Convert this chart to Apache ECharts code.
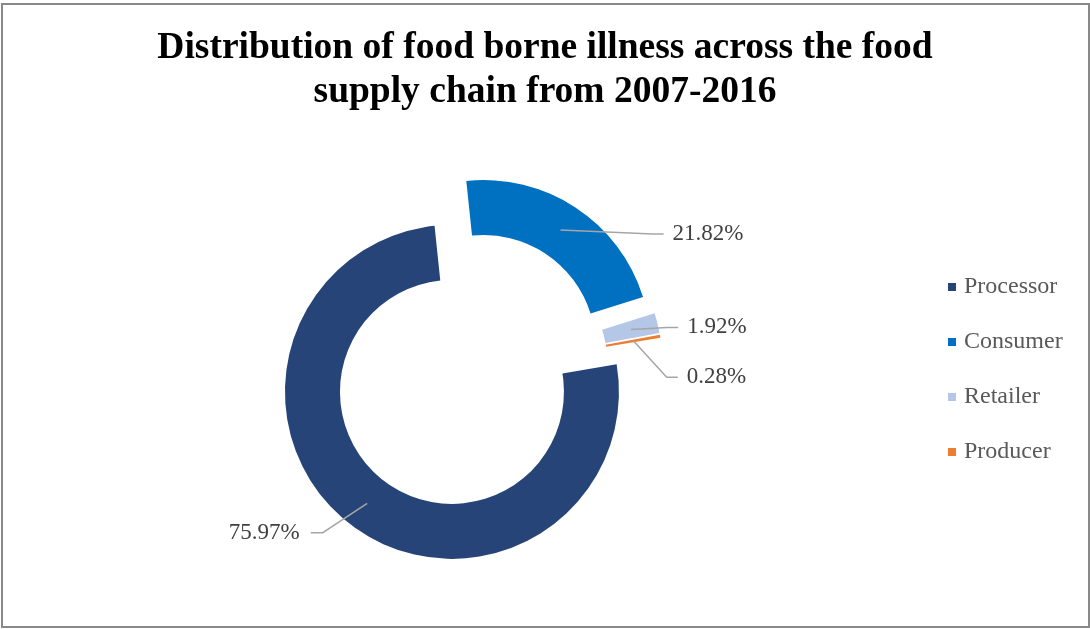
<!DOCTYPE html>
<html>
<head>
<meta charset="utf-8">
<script src="https://cdn.jsdelivr.net/npm/echarts@6/dist/echarts.min.js"></script>
<style>
  html, body { margin: 0; padding: 0; background: #fff; }
  #wrap { position: relative; width: 1090px; height: 629px; }
  #chart { position: absolute; left: 0; top: 0; width: 1090px; height: 629px; }
  #frame { position: absolute; left: 1px; top: 3px; width: 1085px; height: 621px;
           border: 2px solid #898989; pointer-events: none; }
</style>
</head>
<body>
<div id="wrap">
  <div id="chart"></div>
  <div id="frame"></div>
</div>
<script>
// Share of food borne illness by supply chain stage, 2007-2016 (%)
const categories = ['Processor', 'Consumer', 'Retailer', 'Producer'];
const shares = [75.97, 21.82, 1.92, 0.28];
const colors = ['#264478', '#0070C0', '#B4C7E7', '#ED7D31'];

const serif = "'Liberation Serif', 'Times New Roman', serif";

// Ring geometry
const START_ANGLE = 9.5;      // degrees, ECharts convention (0 = 3 o'clock)
const EXPLODE = 27.5;         // every slice is pulled out from the centre
const LEADER_INSET = 27;      // leader lines begin inside the ring
const RING_CENTER = [468.6, 370];
const RING_RADIUS = [112, 167];
// Per-slice label nudges [dx, dy] away from the default outside position
const labelNudge = [[-22, -4], [69, 39], [0, 8], [-5, 31]];

const total = shares.reduce((a, b) => a + b, 0);

function midDirection(i) {
  const before = shares.slice(0, i).reduce((a, b) => a + b, 0);
  const deg = START_ANGLE - 360 * (before + shares[i] / 2) / total;
  const rad = deg * Math.PI / 180;
  return [Math.cos(rad), -Math.sin(rad)];
}

// Shared ring settings for the filled ring and the label overlay
function ringBase() {
  return {
    type: 'pie',
    center: RING_CENTER,
    radius: RING_RADIUS,
    startAngle: START_ANGLE,
    clockwise: true,
    selectedMode: 'multiple',
    selectedOffset: EXPLODE,
    emphasis: { disabled: true },
    select: { itemStyle: { borderWidth: 0 } }
  };
}

const chart = echarts.init(document.getElementById('chart'), null, { renderer: 'canvas' });

chart.setOption({
  animation: false,
  backgroundColor: '#ffffff',
  title: {
    text: 'Distribution of food borne illness across the food\nsupply chain from 2007-2016',
    left: 'center',
    top: 21,
    textStyle: {
      fontFamily: serif,
      fontSize: 37.5,
      fontWeight: 'bold',
      color: '#000000',
      lineHeight: 44
    }
  },
  legend: {
    orient: 'vertical',
    left: 943,
    top: 270,
    icon: 'rect',
    itemWidth: 8,
    itemHeight: 8,
    itemGap: 31,
    selectedMode: false,
    data: categories,
    textStyle: {
      fontFamily: serif,
      fontSize: 24,
      lineHeight: 24,
      color: '#595959',
      padding: [0, 0, 0, 3]
    }
  },
  series: [
    // Filled, exploded ring
    Object.assign(ringBase(), {
      name: 'ring',
      z: 2,
      label: { show: false },
      labelLine: { show: false },
      data: categories.map((name, i) => ({
        name: name,
        value: shares[i],
        selected: true,
        itemStyle: { color: colors[i] }
      }))
    }),
    // Same ring, unfilled, carrying the percentage labels so the
    // leader lines are painted on top of the slices
    Object.assign(ringBase(), {
      name: 'labels',
      z: 3,
      silent: true,
      avoidLabelOverlap: true,
      itemStyle: { color: 'rgba(0,0,0,0)', borderWidth: 0 },
      label: {
        show: true,
        formatter: '{c}%',
        fontFamily: serif,
        fontSize: 23,
        color: '#404040'
      },
      labelLine: {
        show: true,
        length: 15,
        length2: 15,
        lineStyle: { color: '#A6A6A6', width: 1.5 }
      },
      labelLayout: function (p) {
        const i = p.dataIndex;
        const pts = p.labelLinePoints;
        if (!pts) return {};
        const [ux, uy] = midDirection(i);
        const start = [pts[0][0] - LEADER_INSET * ux, pts[0][1] - LEADER_INSET * uy];
        const [dx, dy] = labelNudge[i];
        const r = p.labelRect;
        const cy = r.y + r.height / 2 + dy;
        const onRight = pts[2][0] >= pts[0][0];
        let end, elbow;
        if (onRight) {
          end = [r.x + dx - 9, cy];
          elbow = [end[0] - 11, cy];
        } else {
          end = [r.x + r.width + dx + 11, cy];
          elbow = [end[0] + 12, cy];
        }
        return { dx: dx, dy: dy, labelLinePoints: [start, elbow, end] };
      },
      data: categories.map((name, i) => ({
        name: name,
        value: shares[i],
        selected: true
      }))
    })
  ]
});
</script>
</body>
</html>
